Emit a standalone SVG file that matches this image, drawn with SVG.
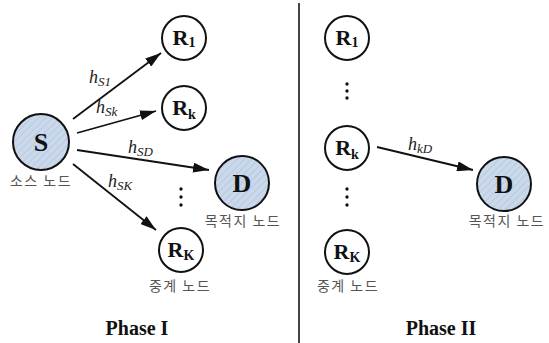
<svg xmlns="http://www.w3.org/2000/svg" width="549" height="343" viewBox="0 0 549 343">
<style>
.node{stroke:#111;stroke-width:2}
.relay{fill:#fff}
.term{fill:url(#hatch)}
.lbl{font-family:"Liberation Serif","Times New Roman",serif;font-weight:bold;fill:#111;text-anchor:middle}
.big{font-size:26px}
.r{font-size:22px}
.sub{font-size:14px}
.kr{font-family:"Noto Sans CJK KR","Noto Sans",sans-serif;font-size:14px;fill:#555;text-anchor:middle;letter-spacing:1.5px}
.h{font-family:"Liberation Serif","Times New Roman",serif;font-style:italic;font-size:18px;fill:#222}
.hs{font-size:13px}
.edge{stroke:#111;stroke-width:1.8;fill:none;marker-end:url(#arr)}
.phase{font-family:"Liberation Serif","Times New Roman",serif;font-weight:bold;font-size:20px;fill:#111;text-anchor:middle}
.dot{fill:#111}
</style>
<defs>
<pattern id="hatch" patternUnits="userSpaceOnUse" width="5" height="5" patternTransform="rotate(45)">
<rect width="5" height="5" fill="#cad8eb"/>
<line x1="0" y1="0" x2="0" y2="5" stroke="#aebfd7" stroke-width="1.2"/>
</pattern>
<marker id="arr" markerUnits="userSpaceOnUse" markerWidth="16" markerHeight="10" refX="16" refY="5" orient="auto">
<path d="M0,0 L16,5 L0,10 z" fill="#111"/>
</marker>
</defs>

<line x1="299" y1="3" x2="299" y2="343" stroke="#444" stroke-width="2"/>

<g id="connectors">
<line class="edge" x1="73" y1="119" x2="161" y2="53"/>
<line class="edge" x1="77" y1="133" x2="156" y2="111"/>
<line class="edge" x1="77" y1="150" x2="209" y2="170"/>
<line class="edge" x1="73" y1="164" x2="156" y2="230"/>
<line class="edge" x1="377" y1="147" x2="473" y2="170"/>
<text class="h" x="89" y="83">h<tspan class="hs" dy="3">S1</tspan></text>
<text class="h" x="96" y="113">h<tspan class="hs" dy="3">Sk</tspan></text>
<text class="h" x="128" y="153">h<tspan class="hs" dy="3">SD</tspan></text>
<text class="h" x="108" y="187">h<tspan class="hs" dy="3">SK</tspan></text>
<text class="h" x="408" y="150">h<tspan class="hs" dy="3">kD</tspan></text>
</g>

<g id="S">
<circle class="node term" cx="41" cy="142" r="28"/>
<text class="lbl big" x="41" y="151">S</text>
<text class="kr" x="41" y="186">소스 노드</text>
</g>

<g id="R1_p1">
<circle class="node relay" cx="184" cy="38" r="22"/>
<text class="lbl r" x="184" y="45">R<tspan class="sub" dy="2">1</tspan></text>
</g>

<g id="Rk_p1">
<circle class="node relay" cx="184" cy="108" r="22"/>
<text class="lbl r" x="184" y="115">R<tspan class="sub" dy="4">k</tspan></text>
</g>

<g id="D_p1">
<circle class="node term" cx="242" cy="183" r="27"/>
<text class="lbl big" x="242" y="192">D</text>
<text class="kr" x="243" y="226">목적지 노드</text>
</g>

<g id="dots_p1">
<circle class="dot" cx="181" cy="189" r="1.7"/>
<circle class="dot" cx="181" cy="197" r="1.7"/>
<circle class="dot" cx="181" cy="205" r="1.7"/>
</g>

<g id="RK_p1">
<circle class="node relay" cx="181" cy="250" r="22"/>
<text class="lbl r" x="181" y="257">R<tspan class="sub" dy="3">K</tspan></text>
<text class="kr" x="180" y="291">중계 노드</text>
</g>

<g id="R1_p2">
<circle class="node relay" cx="347" cy="38" r="22"/>
<text class="lbl r" x="347" y="45">R<tspan class="sub" dy="2">1</tspan></text>
</g>

<g id="dots_p2a">
<circle class="dot" cx="347" cy="84" r="1.7"/>
<circle class="dot" cx="347" cy="91" r="1.7"/>
<circle class="dot" cx="347" cy="98" r="1.7"/>
</g>

<g id="Rk_p2">
<circle class="node relay" cx="347" cy="148" r="22"/>
<text class="lbl r" x="347" y="155">R<tspan class="sub" dy="4">k</tspan></text>
</g>

<g id="dots_p2b">
<circle class="dot" cx="347" cy="189" r="1.7"/>
<circle class="dot" cx="347" cy="197" r="1.7"/>
<circle class="dot" cx="347" cy="205" r="1.7"/>
</g>

<g id="RK_p2">
<circle class="node relay" cx="347" cy="252" r="22"/>
<text class="lbl r" x="347" y="259">R<tspan class="sub" dy="3">K</tspan></text>
<text class="kr" x="348" y="291">중계 노드</text>
</g>

<g id="D_p2">
<circle class="node term" cx="504" cy="184" r="27"/>
<text class="lbl big" x="504" y="193">D</text>
<text class="kr" x="507" y="226">목적지 노드</text>
</g>

<text class="phase" x="137" y="335">Phase I</text>
<text class="phase" x="441" y="335">Phase II</text>
</svg>
